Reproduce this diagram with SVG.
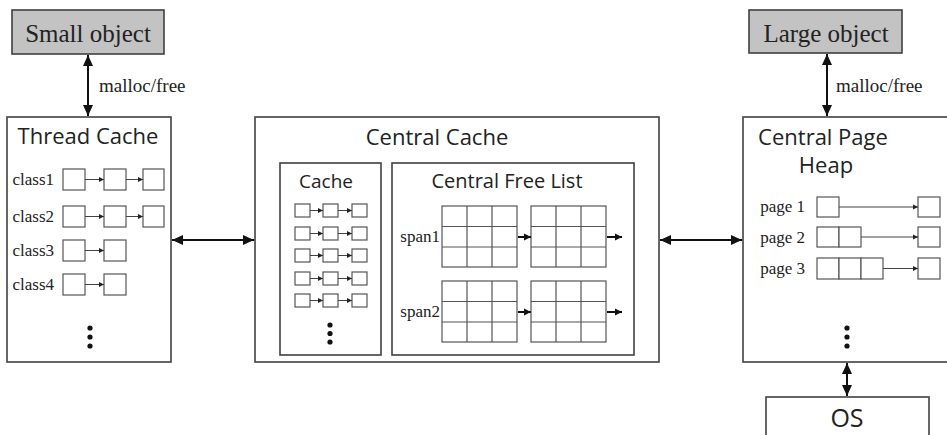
<svg xmlns="http://www.w3.org/2000/svg" width="947" height="435" viewBox="0 0 947 435">
<defs>
<style>
.box{fill:#fff;stroke:#404040;stroke-width:1.6}
.obj{fill:#c3c3c3;stroke:#404040;stroke-width:1.6}
.cell{fill:#fff;stroke:#555;stroke-width:1.2}
.grid{fill:none;stroke:#555;stroke-width:1.2}
.sans{font-family:"Open Sans","Noto Sans",sans-serif;fill:#222}
.serif{font-family:"Liberation Serif","Times New Roman",serif;fill:#222}
.big{stroke:#111;stroke-width:2;fill:none;marker-start:url(#ah);marker-end:url(#ah)}
.thin{stroke:#444;stroke-width:1;fill:none;marker-end:url(#sh)}
.mid{stroke:#111;stroke-width:2;fill:none;marker-end:url(#mh)}
.dot{fill:#111}
</style>
<marker id="ah" markerUnits="userSpaceOnUse" markerWidth="12" markerHeight="10" refX="11" refY="5" orient="auto-start-reverse"><path d="M0,0 L11,5 L0,10 Z" fill="#111"/></marker>
<marker id="sh" markerUnits="userSpaceOnUse" markerWidth="6" markerHeight="6" refX="5" refY="3" orient="auto"><path d="M0,0.5 L5,3 L0,5.5 Z" fill="#222"/></marker>
<marker id="mh" markerUnits="userSpaceOnUse" markerWidth="8" markerHeight="8" refX="7" refY="4" orient="auto"><path d="M0,0.5 L7,4 L0,7.5 Z" fill="#111"/></marker>
</defs>
<rect width="947" height="435" fill="#fff"/>

<g id="small-object">
<rect class="obj" x="12" y="10" width="152" height="44"/>
<text class="serif" x="88" y="42" font-size="25" text-anchor="middle">Small object</text>
</g>

<g id="large-object">
<rect class="obj" x="749" y="10" width="153" height="43"/>
<text class="serif" x="826" y="42" font-size="25" text-anchor="middle">Large object</text>
</g>

<g id="thread-cache">
<rect class="box" x="7" y="117" width="164" height="245"/>
<text class="sans" x="88" y="144" font-size="22" text-anchor="middle">Thread Cache</text>
<g class="serif" font-size="17" text-anchor="end">
<text x="54" y="185">class1</text>
<text x="54" y="222">class2</text>
<text x="54" y="256">class3</text>
<text x="54" y="290">class4</text>
</g>
<rect class="cell" x="63" y="169" width="22" height="21"/>
<rect class="cell" x="104" y="169" width="22" height="21"/>
<rect class="cell" x="143" y="169" width="21" height="21"/>
<rect class="cell" x="63" y="206" width="22" height="21"/>
<rect class="cell" x="104" y="206" width="22" height="21"/>
<rect class="cell" x="143" y="206" width="21" height="21"/>
<rect class="cell" x="63" y="240" width="22" height="21"/>
<rect class="cell" x="104" y="240" width="22" height="21"/>
<rect class="cell" x="63" y="274" width="22" height="21"/>
<rect class="cell" x="104" y="274" width="22" height="21"/>
<circle class="dot" cx="90" cy="328" r="2.6"/>
<circle class="dot" cx="90" cy="337" r="2.6"/>
<circle class="dot" cx="90" cy="346" r="2.6"/>
</g>

<g id="central-cache">
<rect class="box" x="255" y="117" width="404" height="245"/>
<text class="sans" x="437" y="145" font-size="22" text-anchor="middle">Central Cache</text>
</g>

<g id="cache">
<rect class="box" x="280" y="163" width="101" height="192"/>
<text class="sans" x="326" y="188" font-size="19" text-anchor="middle">Cache</text>
<g class="cell">
<rect x="295" y="204" width="15" height="13"/><rect x="323" y="204" width="15" height="13"/><rect x="352" y="204" width="15" height="13"/>
<rect x="295" y="227" width="15" height="13"/><rect x="323" y="227" width="15" height="13"/><rect x="352" y="227" width="15" height="13"/>
<rect x="295" y="249" width="15" height="13"/><rect x="323" y="249" width="15" height="13"/><rect x="352" y="249" width="15" height="13"/>
<rect x="295" y="272" width="15" height="13"/><rect x="323" y="272" width="15" height="13"/><rect x="352" y="272" width="15" height="13"/>
<rect x="295" y="294" width="15" height="13"/><rect x="323" y="294" width="15" height="13"/><rect x="352" y="294" width="15" height="13"/>
</g>
<circle class="dot" cx="330" cy="325" r="2.6"/>
<circle class="dot" cx="330" cy="333.5" r="2.6"/>
<circle class="dot" cx="330" cy="342" r="2.6"/>
</g>

<g id="central-free-list">
<rect class="box" x="392" y="163" width="242" height="192"/>
<text class="sans" x="507" y="188" font-size="20" text-anchor="middle">Central Free List</text>
<g class="serif" font-size="17" text-anchor="end">
<text x="440" y="242">span1</text>
<text x="440" y="317">span2</text>
</g>
<g class="grid">
<rect x="442" y="206" width="75" height="61"/>
<path d="M467,206V267M492,206V267M442,226.5H517M442,247H517"/>
<rect x="531" y="206" width="75" height="61"/>
<path d="M556,206V267M581,206V267M531,226.5H606M531,247H606"/>
<rect x="442" y="281" width="75" height="61"/>
<path d="M467,281V342M492,281V342M442,301.5H517M442,322H517"/>
<rect x="531" y="281" width="75" height="61"/>
<path d="M556,281V342M581,281V342M531,301.5H606M531,322H606"/>
</g>
</g>

<g id="central-page-heap">
<rect class="box" x="743" y="117" width="220" height="245"/>
<text class="sans" x="823" y="145" font-size="22" text-anchor="middle">Central Page</text>
<text class="sans" x="826" y="173" font-size="22" text-anchor="middle">Heap</text>
<g class="serif" font-size="17" text-anchor="end">
<text x="805" y="212">page 1</text>
<text x="805" y="243">page 2</text>
<text x="805" y="274">page 3</text>
</g>
<g class="cell">
<rect x="817" y="197" width="22" height="20"/>
<rect x="918" y="197" width="22" height="20"/>
<rect x="817" y="227" width="22" height="20"/>
<rect x="839" y="227" width="22" height="20"/>
<rect x="918" y="227" width="22" height="20"/>
<rect x="817" y="258" width="22" height="21"/>
<rect x="839" y="258" width="22" height="21"/>
<rect x="861" y="258" width="22" height="21"/>
<rect x="918" y="258" width="22" height="21"/>
</g>
<circle class="dot" cx="847" cy="328" r="2.6"/>
<circle class="dot" cx="847" cy="337" r="2.6"/>
<circle class="dot" cx="847" cy="346" r="2.6"/>
</g>

<g id="os">
<rect class="box" x="766" y="397" width="163" height="50"/>
<text class="sans" x="847" y="427" font-size="25" text-anchor="middle">OS</text>
</g>

<g id="connectors">
<line class="big" x1="88" y1="55" x2="88" y2="116"/>
<line class="big" x1="827" y1="54" x2="827" y2="116"/>
<line class="big" x1="172" y1="240" x2="254" y2="240"/>
<line class="big" x1="660" y1="240" x2="742" y2="240"/>
<line class="big" x1="847" y1="363" x2="847" y2="396"/>
<text class="serif" x="99" y="92" font-size="19">malloc/free</text>
<text class="serif" x="836" y="92" font-size="19">malloc/free</text>
<line class="thin" x1="85" y1="179.5" x2="104" y2="179.5"/>
<line class="thin" x1="126" y1="179.5" x2="143" y2="179.5"/>
<line class="thin" x1="85" y1="216.5" x2="104" y2="216.5"/>
<line class="thin" x1="126" y1="216.5" x2="143" y2="216.5"/>
<line class="thin" x1="85" y1="250.5" x2="104" y2="250.5"/>
<line class="thin" x1="85" y1="284.5" x2="104" y2="284.5"/>
<line class="thin" x1="310" y1="210.5" x2="323" y2="210.5"/>
<line class="thin" x1="338" y1="210.5" x2="352" y2="210.5"/>
<line class="thin" x1="310" y1="233.5" x2="323" y2="233.5"/>
<line class="thin" x1="338" y1="233.5" x2="352" y2="233.5"/>
<line class="thin" x1="310" y1="255.5" x2="323" y2="255.5"/>
<line class="thin" x1="338" y1="255.5" x2="352" y2="255.5"/>
<line class="thin" x1="310" y1="278.5" x2="323" y2="278.5"/>
<line class="thin" x1="338" y1="278.5" x2="352" y2="278.5"/>
<line class="thin" x1="310" y1="300.5" x2="323" y2="300.5"/>
<line class="thin" x1="338" y1="300.5" x2="352" y2="300.5"/>
<line class="mid" x1="518" y1="237" x2="531" y2="237"/>
<line class="mid" x1="607" y1="237" x2="622" y2="237"/>
<line class="mid" x1="518" y1="312" x2="531" y2="312"/>
<line class="mid" x1="607" y1="312" x2="622" y2="312"/>
<line class="thin" x1="839" y1="207" x2="918" y2="207"/>
<line class="thin" x1="861" y1="237" x2="918" y2="237"/>
<line class="thin" x1="883" y1="268.5" x2="918" y2="268.5"/>
</g>
</svg>
